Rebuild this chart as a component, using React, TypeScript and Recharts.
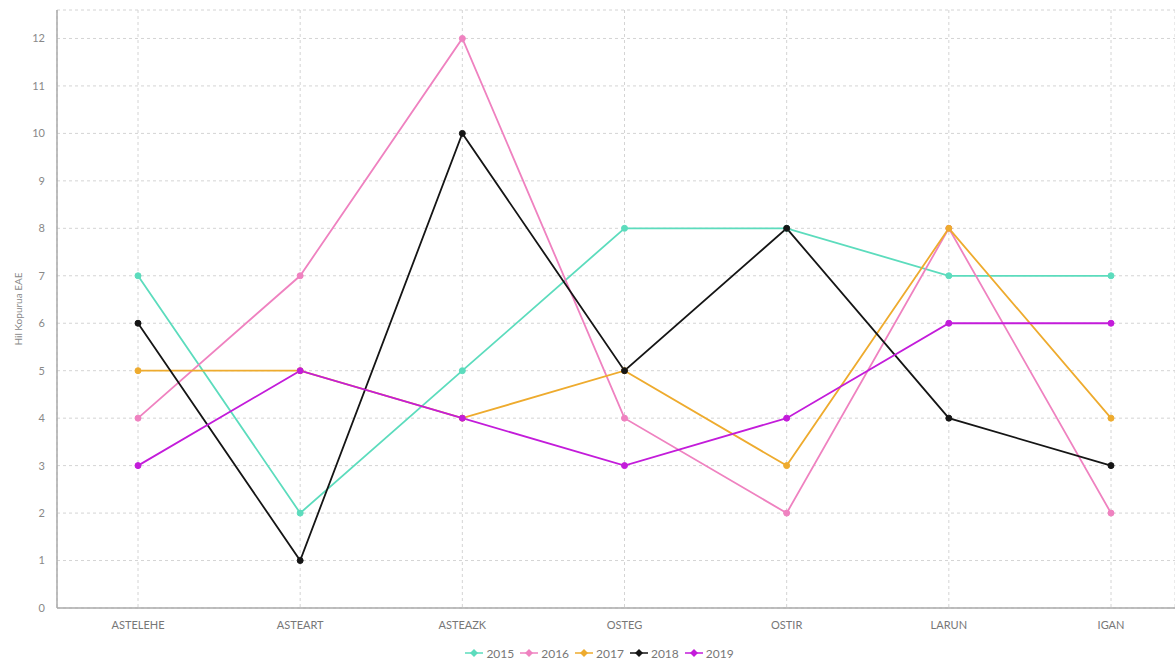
import { LineChart, Line, XAxis, YAxis, CartesianGrid, Legend } from "recharts";

const days = ["ASTELEHE", "ASTEART", "ASTEAZK", "OSTEG", "OSTIR", "LARUN", "IGAN"];
const years = ["2015", "2016", "2017", "2018", "2019"];

const v2015 = [7, 2, 5, 8, 8, 7, 7];
const v2016 = [4, 7, 12, 4, 2, 8, 2];
const v2017 = [5, 5, 4, 5, 3, 8, 4];
const v2018 = [6, 1, 10, 5, 8, 4, 3];
const v2019 = [3, 5, 4, 3, 4, 6, 6];

const yTicks = [0, 1, 2, 3, 4, 5, 6, 7, 8, 9, 10, 11, 12];

const COLORS = ["#5cdcbd", "#ef82c0", "#eeab2e", "#151515", "#c31cda"];

const seriesValues = [v2015, v2016, v2017, v2018, v2019];

const data = days.map((day, i) => {
  const row: Record<string, string | number> = { day };
  years.forEach((y, k) => {
    row[y] = seriesValues[k][i];
  });
  return row;
});

function LegendContent() {
  return (
    <div
      style={{
        width: 1175,
        height: 26,
        display: "flex",
        justifyContent: "center",
        alignItems: "center",
        paddingTop: 4,
        paddingLeft: 30,
        boxSizing: "border-box",
      }}
    >
      {years.map((y, k) => (
        <div key={y} style={{ display: "flex", alignItems: "center", marginRight: 6 }}>
          <svg width={18} height={10} style={{ marginRight: 3 }}>
            <line x1={0} y1={5} x2={18} y2={5} stroke={COLORS[k]} strokeWidth={1.5} />
            <path d="M9,1 L13,5 L9,9 L5,5 Z" fill={COLORS[k]} />
          </svg>
          <span style={{ fontSize: 12, color: "#777" }}>{y}</span>
        </div>
      ))}
    </div>
  );
}

export default function App() {
  return (
    <div
      style={{
        position: "absolute",
        left: 0,
        top: 0,
        width: 1175,
        height: 664,
        overflow: "hidden",
        background: "#fff",
        fontFamily: "Lato, sans-serif",
      }}
    >
      <LineChart width={1175} height={664} data={data} margin={{ top: 10, right: 0, bottom: 0, left: 0 }}>
        <CartesianGrid stroke="#d4d4d4" strokeDasharray="3 3" />
        <XAxis
          dataKey="day"
          padding={{ left: 81, right: 64 }}
          tickLine={false}
          tickMargin={7}
          height={30}
          stroke="#aaa"
          strokeWidth={1.5}
          tick={{ fill: "#777", fontSize: 11 }}
        />
        <YAxis
          domain={[0, 12.6]}
          ticks={yTicks}
          width={57}
          tickLine={false}
          tickMargin={6}
          stroke="#aaa"
          strokeWidth={1.5}
          tick={{ fill: "#888", fontSize: 11 }}
          label={{
            value: "Hil Kopurua EAE",
            angle: -90,
            position: "insideLeft",
            offset: 18,
            style: { textAnchor: "middle", fill: "#888", fontSize: 10 },
          }}
        />
        <Legend verticalAlign="bottom" content={<LegendContent />} />
        {years.map((y, k) => (
          <Line
            key={y}
            dataKey={y}
            type="linear"
            stroke={COLORS[k]}
            strokeWidth={1.8}
            dot={{ r: 3, fill: COLORS[k], stroke: COLORS[k], strokeWidth: 1 }}
            activeDot={false}
            isAnimationActive={false}
          />
        ))}
      </LineChart>
    </div>
  );
}
